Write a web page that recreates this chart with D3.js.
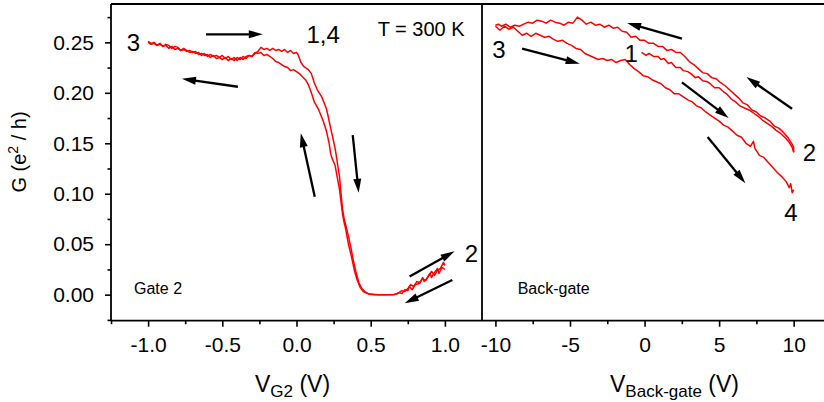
<!DOCTYPE html>
<html>
<head>
<meta charset="utf-8">
<script src="https://cdn.jsdelivr.net/npm/d3@7"></script>
<style>
  body { margin: 0; background: #fff; }
  svg { display: block; font-family: "Liberation Sans", Arial, sans-serif; }
</style>
</head>
<body>
<div id="chart"></div>
<script>
// Gate 2 sweep (left panel), [V_G2, G]
var gateSweepUp = [[-1.00,0.251],[-0.98,0.249],[-0.96,0.250],[-0.94,0.247],[-0.92,0.249],[-0.90,0.246],[-0.88,0.248],[-0.86,0.247],[-0.84,0.244],[-0.82,0.246],[-0.80,0.245],[-0.78,0.242],[-0.76,0.244],[-0.74,0.242],[-0.72,0.240],[-0.70,0.241],[-0.68,0.239],[-0.66,0.240],[-0.64,0.237],[-0.62,0.239],[-0.60,0.236],[-0.58,0.238],[-0.56,0.236],[-0.54,0.237],[-0.52,0.235],[-0.50,0.237],[-0.48,0.234],[-0.46,0.236],[-0.44,0.233],[-0.42,0.235],[-0.40,0.232],[-0.38,0.235],[-0.36,0.233],[-0.34,0.236],[-0.32,0.237],[-0.30,0.236],[-0.28,0.239],[-0.26,0.241],[-0.24,0.245],[-0.22,0.243],[-0.20,0.244],[-0.18,0.242],[-0.16,0.244],[-0.14,0.242],[-0.12,0.243],[-0.10,0.241],[-0.08,0.243],[-0.06,0.240],[-0.04,0.242],[-0.02,0.239],[0.00,0.240],[0.01,0.238],[0.02,0.234],[0.03,0.230],[0.05,0.226],[0.08,0.223],[0.10,0.219],[0.12,0.210],[0.14,0.203],[0.17,0.196],[0.20,0.185],[0.21,0.179],[0.23,0.165],[0.25,0.152],[0.26,0.145],[0.27,0.136],[0.28,0.126],[0.29,0.117],[0.30,0.100],[0.31,0.085],[0.32,0.076],[0.33,0.070],[0.35,0.058],[0.37,0.044],[0.38,0.036],[0.40,0.023],[0.42,0.012],[0.44,0.006],[0.46,0.003],[0.49,0.0005],[0.52,0],[0.60,0],[0.66,0.0002],[0.69,0.002],[0.71,0.001],[0.73,0.005],[0.75,0.004],[0.76,0.008],[0.78,0.005],[0.80,0.010],[0.83,0.011],[0.85,0.017],[0.86,0.013],[0.88,0.016],[0.90,0.021],[0.91,0.017],[0.93,0.022],[0.95,0.026],[0.96,0.021],[0.98,0.027],[1.00,0.025]];
var gateSweepDown = [[1.00,0.029],[0.99,0.032],[0.97,0.026],[0.95,0.024],[0.93,0.019],[0.91,0.023],[0.89,0.019],[0.87,0.014],[0.85,0.016],[0.83,0.012],[0.81,0.013],[0.79,0.008],[0.77,0.010],[0.75,0.006],[0.73,0.003],[0.71,0.004],[0.68,0.001],[0.65,0],[0.55,0],[0.48,0.001],[0.45,0.003],[0.43,0.007],[0.41,0.014],[0.39,0.024],[0.37,0.038],[0.35,0.050],[0.34,0.058],[0.33,0.066],[0.32,0.072],[0.31,0.080],[0.30,0.092],[0.29,0.104],[0.28,0.112],[0.27,0.120],[0.26,0.128],[0.24,0.135],[0.23,0.140],[0.22,0.150],[0.20,0.163],[0.18,0.172],[0.15,0.183],[0.12,0.191],[0.10,0.200],[0.08,0.208],[0.06,0.213],[0.04,0.216],[0.02,0.219],[0.00,0.221],[-0.02,0.223],[-0.04,0.222],[-0.06,0.225],[-0.08,0.226],[-0.10,0.228],[-0.12,0.230],[-0.14,0.231],[-0.16,0.234],[-0.18,0.236],[-0.20,0.238],[-0.22,0.237],[-0.24,0.240],[-0.26,0.239],[-0.28,0.240],[-0.30,0.236],[-0.32,0.237],[-0.34,0.234],[-0.36,0.236],[-0.38,0.233],[-0.40,0.235],[-0.42,0.232],[-0.44,0.234],[-0.46,0.232],[-0.48,0.235],[-0.50,0.233],[-0.52,0.235],[-0.54,0.234],[-0.56,0.237],[-0.58,0.235],[-0.60,0.238],[-0.62,0.237],[-0.64,0.239],[-0.66,0.238],[-0.68,0.241],[-0.70,0.240],[-0.72,0.242],[-0.74,0.241],[-0.76,0.243],[-0.78,0.242],[-0.80,0.244],[-0.82,0.243],[-0.84,0.246],[-0.86,0.244],[-0.88,0.247],[-0.90,0.246],[-0.92,0.248],[-0.94,0.247],[-0.96,0.249],[-0.98,0.248],[-1.00,0.250]];

// Back-gate sweeps (right panel), [V_Back-gate, G]
var backSweep12 = [[-0.2,0.240],[0.1,0.237],[0.3,0.239],[0.6,0.236],[0.9,0.236],[1.1,0.233],[1.3,0.234],[1.6,0.229],[1.8,0.230],[2.1,0.225],[2.4,0.225],[2.6,0.222],[2.9,0.221],[3.1,0.219],[3.4,0.215],[3.6,0.216],[3.9,0.212],[4.2,0.211],[4.4,0.209],[4.7,0.205],[5.0,0.205],[5.3,0.201],[5.5,0.199],[5.8,0.194],[6.1,0.191],[6.4,0.187],[6.7,0.185],[7.0,0.183],[7.3,0.180],[7.6,0.177],[7.9,0.173],[8.2,0.170],[8.5,0.167],[8.8,0.163],[9.1,0.160],[9.4,0.156],[9.7,0.151],[9.9,0.146],[10.0,0.141]];
var backSweep23 = [[10.0,0.141],[10.0,0.146],[9.9,0.149],[9.6,0.156],[9.3,0.161],[9.0,0.165],[8.7,0.167],[8.4,0.172],[8.1,0.175],[7.8,0.177],[7.5,0.181],[7.2,0.183],[6.9,0.188],[6.6,0.190],[6.3,0.195],[6.0,0.199],[5.7,0.203],[5.4,0.207],[5.1,0.210],[4.8,0.214],[4.5,0.215],[4.2,0.219],[3.9,0.220],[3.6,0.224],[3.3,0.228],[3.0,0.231],[2.7,0.236],[2.4,0.240],[2.1,0.240],[1.8,0.243],[1.5,0.242],[1.2,0.246],[0.9,0.246],[0.6,0.249],[0.3,0.249],[0.0,0.252],[-0.3,0.252],[-0.6,0.256],[-0.9,0.255],[-1.2,0.260],[-1.5,0.261],[-1.8,0.265],[-2.1,0.264],[-2.4,0.267],[-2.7,0.265],[-3.0,0.268],[-3.3,0.267],[-3.6,0.270],[-3.9,0.268],[-4.2,0.272],[-4.5,0.275],[-4.8,0.269],[-5.1,0.270],[-5.4,0.267],[-5.7,0.269],[-6.0,0.270],[-6.3,0.272],[-6.6,0.269],[-6.9,0.271],[-7.2,0.272],[-7.5,0.269],[-7.8,0.270],[-8.1,0.268],[-8.4,0.266],[-8.7,0.267],[-9.0,0.265],[-9.3,0.268],[-9.6,0.266],[-9.8,0.268],[-10.0,0.267]];
var backSweep34 = [[-10.0,0.266],[-9.7,0.262],[-9.4,0.266],[-9.1,0.263],[-8.8,0.265],[-8.5,0.261],[-8.2,0.257],[-7.9,0.259],[-7.6,0.256],[-7.3,0.259],[-7.0,0.257],[-6.7,0.255],[-6.4,0.256],[-6.1,0.253],[-5.8,0.251],[-5.5,0.252],[-5.2,0.249],[-4.9,0.247],[-4.6,0.244],[-4.3,0.243],[-4.0,0.239],[-3.7,0.237],[-3.4,0.235],[-3.1,0.233],[-2.8,0.234],[-2.5,0.232],[-2.2,0.233],[-1.9,0.230],[-1.6,0.232],[-1.3,0.233],[-1.0,0.228],[-0.7,0.224],[-0.4,0.221],[-0.1,0.217],[0.2,0.216],[0.5,0.213],[0.8,0.211],[1.1,0.209],[1.4,0.205],[1.7,0.203],[2.0,0.199],[2.3,0.199],[2.6,0.196],[2.9,0.193],[3.2,0.191],[3.5,0.187],[3.8,0.185],[4.1,0.181],[4.4,0.178],[4.7,0.175],[5.0,0.172],[5.3,0.168],[5.6,0.166],[5.9,0.162],[6.2,0.158],[6.5,0.156],[6.8,0.150],[7.1,0.147],[7.3,0.152],[7.4,0.145],[7.7,0.138],[8.0,0.136],[8.3,0.131],[8.6,0.126],[8.9,0.121],[9.2,0.117],[9.5,0.112],[9.7,0.106],[9.8,0.110],[9.9,0.101],[10.0,0.104]];

// ticks
var gTicks = [0, 0.05, 0.10, 0.15, 0.20, 0.25];
var gMinor = [-0.025, 0.025, 0.075, 0.125, 0.175, 0.225, 0.275];
var gateTicks = [-1.0, -0.5, 0.0, 0.5, 1.0];
var gateMinor = [-1.25, -0.75, -0.25, 0.25, 0.75];
var backTicks = [-10, -5, 0, 5, 10];
var backMinor = [-7.5, -2.5, 2.5, 7.5];

// annotations (tail -> head), in data units
var gateArrows = [[[-0.61,0.258],[-0.227,0.258]], [[-0.395,0.206],[-0.772,0.214]], [[0.123,0.097],[0.029,0.160]], [[0.379,0.158],[0.419,0.101]], [[0.762,0.018],[1.065,0.043]], [[1.05,0.0146],[0.729,-0.0085]]];
var backArrows = [[[2.51,0.2537],[-1.17,0.2692]], [[-8.21,0.2437],[-4.35,0.2289]], [[2.51,0.2103],[5.64,0.175]], [[4.23,0.1562],[6.76,0.1105]], [[9.89,0.1842],[6.83,0.2157]]];
var gateLabels = [["3",-1.144,0.241,24],["1,4",0.067,0.249,24],["2",1.133,0.0327,24],["T = 300 K",0.547,0.256,20],["Gate 2",-1.095,0.0007,16]];
var backLabels = [["3",-10.22,0.2345,24],["1",-1.35,0.231,24],["2",10.6,0.132,24],["4",9.37,0.0734,24],["Back-gate",-8.51,0.0004,16]];

var width = 824, height = 402;
var plotLeft = 111, plotTop = 4, plotBottom = 320.7, plotSplit = 482;

var svg = d3.select("#chart").append("svg")
    .attr("width", width)
    .attr("height", height);
svg.append("rect").attr("width", width).attr("height", height).attr("fill", "#fff");

var y = d3.scaleLinear().domain([-0.0258, 0.288]).range([plotBottom, plotTop]);
var xL = d3.scaleLinear().domain([-1.25, 1.25]).range([plotLeft, plotSplit]);
var xR = d3.scaleLinear().domain([-10.9, 12.1]).range([plotSplit, 825]);

function styleAxis(g) {
    g.select(".domain").remove();
    g.selectAll(".tick line").attr("stroke", "#000").attr("stroke-width", 1.6);
    g.selectAll(".tick text").attr("fill", "#000")
        .style("font-size", "21px")
        .style("font-family", "'Liberation Sans', Arial, sans-serif");
}

// y axis
svg.append("g").attr("transform", "translate(" + plotLeft + ",0)")
    .call(d3.axisLeft(y).tickValues(gTicks).tickSize(6).tickPadding(11)
        .tickFormat(function(d) { return d.toFixed(2); }))
    .call(styleAxis);
svg.append("g").attr("transform", "translate(" + plotLeft + ",0)")
    .call(d3.axisLeft(y).tickValues(gMinor).tickSize(3.5).tickFormat(""))
    .call(styleAxis);

// x axes
svg.append("g").attr("transform", "translate(0," + plotBottom + ")")
    .call(d3.axisBottom(xL).tickValues(gateTicks).tickSize(6).tickPadding(10)
        .tickFormat(function(d) { return d.toFixed(1); }))
    .call(styleAxis);
svg.append("g").attr("transform", "translate(0," + plotBottom + ")")
    .call(d3.axisBottom(xL).tickValues(gateMinor).tickSize(3.5).tickFormat(""))
    .call(styleAxis);
svg.append("g").attr("transform", "translate(0," + plotBottom + ")")
    .call(d3.axisBottom(xR).tickValues(backTicks).tickSize(6).tickPadding(10)
        .tickFormat(function(d) { return String(d); }))
    .call(styleAxis);
svg.append("g").attr("transform", "translate(0," + plotBottom + ")")
    .call(d3.axisBottom(xR).tickValues(backMinor).tickSize(3.5).tickFormat(""))
    .call(styleAxis);

// frame
var frame = svg.append("g").attr("stroke", "#000").attr("stroke-width", 1.8);
frame.append("line").attr("x1", plotLeft).attr("x2", width).attr("y1", plotTop).attr("y2", plotTop);
frame.append("line").attr("x1", plotLeft).attr("x2", width).attr("y1", plotBottom).attr("y2", plotBottom);
frame.append("line").attr("x1", plotLeft).attr("x2", plotLeft).attr("y1", plotTop).attr("y2", plotBottom);
frame.append("line").attr("x1", plotSplit).attr("x2", plotSplit).attr("y1", plotTop).attr("y2", plotBottom);

// curves
var lineL = d3.line().x(function(d) { return xL(d[0]); }).y(function(d) { return y(d[1]); });
var lineR = d3.line().x(function(d) { return xR(d[0]); }).y(function(d) { return y(d[1]); });
[gateSweepUp, gateSweepDown].forEach(function(s) {
    svg.append("path").datum(s).attr("d", lineL)
        .attr("fill", "none").attr("stroke", "#ff0000").attr("stroke-width", 1.5)
        .attr("stroke-linejoin", "round");
});
[backSweep12, backSweep23, backSweep34].forEach(function(s) {
    svg.append("path").datum(s).attr("d", lineR)
        .attr("fill", "none").attr("stroke", "#ff0000").attr("stroke-width", 1.5)
        .attr("stroke-linejoin", "round");
});

// arrows
function drawArrows(list, xs) {
    list.forEach(function(a) {
        var x0 = xs(a[0][0]), y0 = y(a[0][1]), x1 = xs(a[1][0]), y1 = y(a[1][1]);
        var dx = x1 - x0, dy = y1 - y0, len = Math.sqrt(dx * dx + dy * dy);
        var ux = dx / len, uy = dy / len;
        svg.append("line")
            .attr("x1", x0).attr("y1", y0)
            .attr("x2", x1 - ux * 8).attr("y2", y1 - uy * 8)
            .attr("stroke", "#000").attr("stroke-width", 2.3);
        var bx = x1 - ux * 14, by = y1 - uy * 14;
        svg.append("path")
            .attr("d", "M" + x1 + "," + y1 +
                "L" + (bx - uy * 4) + "," + (by + ux * 4) +
                "L" + (bx + uy * 4) + "," + (by - ux * 4) + "Z")
            .attr("fill", "#000");
    });
}
drawArrows(gateArrows, xL);
drawArrows(backArrows, xR);

// labels
function drawLabels(list, xs) {
    list.forEach(function(l) {
        svg.append("text").attr("x", xs(l[1])).attr("y", y(l[2]))
            .style("font-size", l[3] + "px").attr("fill", "#000").text(l[0]);
    });
}
drawLabels(gateLabels, xL);
drawLabels(backLabels, xR);

// axis titles
var t1 = svg.append("text").attr("x", 255).attr("y", 392).style("font-size", "23px");
t1.append("tspan").text("V");
t1.append("tspan").attr("dy", 5).style("font-size", "17px").text("G2");
t1.append("tspan").attr("dy", -5).text(" (V)");

var t2 = svg.append("text").attr("x", 610).attr("y", 392).style("font-size", "23px");
t2.append("tspan").text("V");
t2.append("tspan").attr("dy", 5).style("font-size", "17px").text("Back-gate");
t2.append("tspan").attr("dy", -5).text(" (V)");

var t3 = svg.append("text").attr("transform", "translate(26,152) rotate(-90)")
    .attr("text-anchor", "middle").style("font-size", "20px");
t3.append("tspan").text("G (e");
t3.append("tspan").attr("dy", -8).style("font-size", "14px").text("2");
t3.append("tspan").attr("dy", 8).text(" / h)");
</script>
</body>
</html>
